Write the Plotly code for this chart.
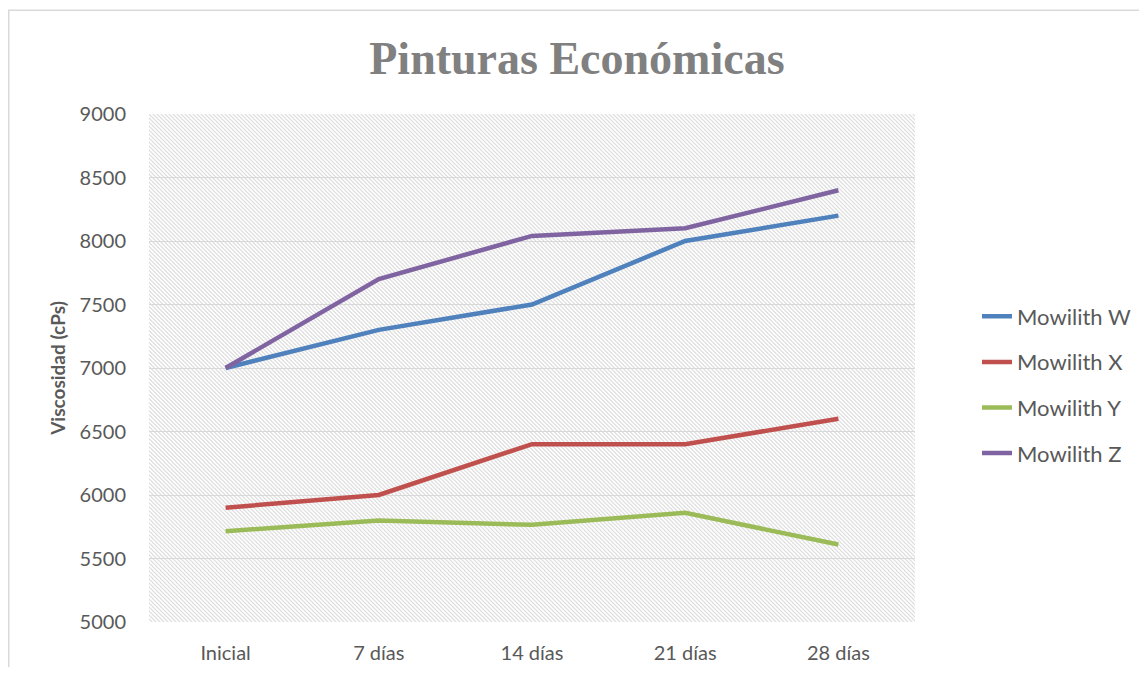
import base64
import plotly.graph_objects as go

categories = ["Inicial", "7 días", "14 días", "21 días", "28 días"]
mowilith_w = [7000, 7300, 7500, 8000, 8200]
mowilith_x = [5900, 6000, 6400, 6400, 6600]
mowilith_y = [5715, 5800, 5765, 5860, 5610]
mowilith_z = [7000, 7700, 8040, 8100, 8400]

series = [
    ("Mowilith W", mowilith_w, "#4f81bd"),
    ("Mowilith X", mowilith_x, "#c0504d"),
    ("Mowilith Y", mowilith_y, "#9bbb59"),
    ("Mowilith Z", mowilith_z, "#8064a2"),
]

# Excel-like light diagonal hatch for the plot area
svg = (
    '<svg xmlns="http://www.w3.org/2000/svg" width="766" height="507" '
    'preserveAspectRatio="none">'
    '<defs><pattern id="h" width="4" height="4" patternUnits="userSpaceOnUse">'
    '<path d="M-1,-1 L5,5 M-1,3 L1,5 M3,-1 L5,1" stroke="#d8d8d8" stroke-width="1"/>'
    '</pattern></defs>'
    '<rect width="766" height="507" fill="url(#h)"/></svg>'
)
hatch = "data:image/svg+xml;base64," + base64.b64encode(svg.encode()).decode()

fig = go.Figure()

for i, (name, vals, color) in enumerate(series):
    fig.add_trace(go.Scatter(
        x=categories,
        y=vals,
        mode='lines',
        name=name,
        legendgroup=str(i),
        line=dict(color=color, width=4.5),
    ))

# page body adds an 8px margin, so the figure is 16px smaller than the window
fig.update_layout(
    width=1131,
    height=659,
    title=dict(
        text='<b>Pinturas Económicas</b>',
        font=dict(family='Liberation Serif', size=46, color='#808080'),
        x=0.503, xref='container', xanchor='center',
        y=1 - 50 / 659, yref='container', yanchor='middle',
    ),
    plot_bgcolor='white',
    paper_bgcolor='white',
    font=dict(family='Lato', size=20, color='#595959'),
    margin=dict(l=141, r=224, t=106, b=45),
    showlegend=True,
    legend=dict(
        xref='container', x=969 / 1131, xanchor='left',
        yref='container', y=1 - 377 / 659, yanchor='middle',
        traceorder='grouped',
        tracegroupgap=14,
        font=dict(size=22, color='#595959'),
    ),
    images=[dict(
        source=hatch, xref='paper', yref='paper',
        x=0, y=1, sizex=1, sizey=1,
        sizing='stretch', layer='below',
        xanchor='left', yanchor='top',
    )],
    # chart border (left and top edges visible)
    shapes=[dict(
        type='rect', xref='paper', yref='paper',
        x0=-0.1831, x1=1.31, y0=-0.12, y1=1.204,
        line=dict(color='#d9d9d9', width=1.5),
    )],
)

fig.update_xaxes(
    range=[-0.5, 4.5],
    automargin=False,
    showgrid=False,
    zeroline=False,
    showline=False,
    ticklabelstandoff=17,
    tickfont=dict(size=20, color='#595959'),
)

fig.update_yaxes(
    range=[5000, 9000],
    dtick=500,
    automargin=False,
    showgrid=True,
    gridcolor='#d9d9d9',
    gridwidth=1.2,
    zeroline=False,
    ticklabelstandoff=22,
    tickfont=dict(size=20, color='#595959'),
    title=dict(
        text='<b>Viscosidad (cPs)</b>',
        font=dict(size=19, color='#595959'),
        standoff=8,
    ),
)

fig.write_html("out.html")
